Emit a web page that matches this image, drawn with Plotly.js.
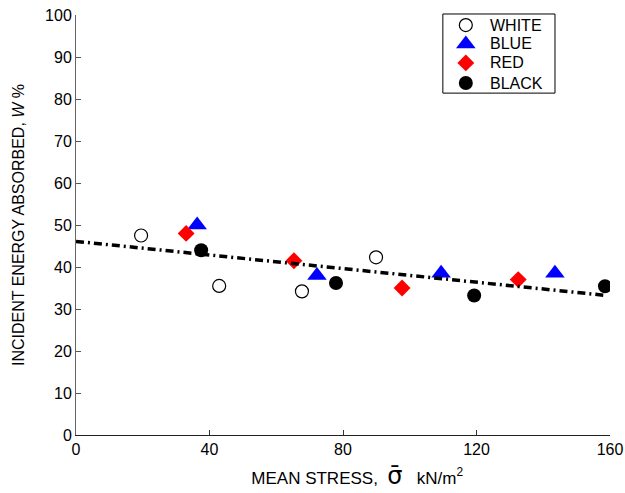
<!DOCTYPE html>
<html><head><meta charset="utf-8">
<script src="https://cdn.plot.ly/plotly-3.0.1.min.js"></script>
<style>body{margin:0;padding:0;background:#fff}</style>
</head><body>
<div id="chart" style="width:625px;height:493px"></div>
<script>
const whiteX = [19.5, 42.9, 67.7, 89.9];
const whiteY = [47.5, 35.5, 34.2, 42.3];
const blueX = [36.3, 72.2, 109.4, 143.5];
const blueY = [50.0, 38.0, 38.5, 38.5];
const redX = [33.0, 65.3, 97.7, 132.5];
const redY = [48.0, 41.5, 35.0, 37.0];
const blackX = [37.5, 77.9, 119.3, 158.5];
const blackY = [44.0, 36.2, 33.2, 35.4];
const fitX = [0, 158];
const fitY = [46.1, 33.3];
const seriesNames = ['WHITE', 'BLUE', 'RED', 'BLACK'];

const markers = [
  {symbol: 'circle-open', size: 13, color: 'black', line: {width: 1.2, color: 'black'}},
  {symbol: 'triangle-up', size: 17, color: '#0000ff'},
  {symbol: 'diamond', size: 13, color: '#ff0000'},
  {symbol: 'circle', size: 14, color: 'black'}
];
const xs = [whiteX, blueX, redX, blackX];
const ys = [whiteY, blueY, redY, blackY];

const traces = [];
for (let i = 0; i < 4; i++) {
  traces.push({x: xs[i], y: ys[i], mode: 'markers', name: seriesNames[i], type: 'scatter',
    showlegend: false, marker: markers[i]});
}
traces.push({x: fitX, y: fitY, mode: 'lines', showlegend: false, type: 'scatter',
  line: {color: 'black', width: 3.5, dash: '8px,4px,2px,4px'}});

// custom legend (overlay axes 0..1 matching the plot area)
const legY = [0.976, 0.931, 0.886, 0.838];
const annotations = [];
for (let i = 0; i < 4; i++) {
  traces.push({x: [0.730], y: [legY[i]], xaxis: 'x2', yaxis: 'y2', mode: 'markers',
    type: 'scatter', showlegend: false, cliponaxis: false, marker: markers[i]});
  annotations.push({xref: 'paper', yref: 'paper', x: 0.772, y: legY[i], xanchor: 'left',
    yanchor: 'middle', text: seriesNames[i], showarrow: false, font: {size: 16}});
}

const layout = {
  width: 625, height: 493,
  margin: {l: 76, r: 15, t: 15, b: 58},
  paper_bgcolor: 'white', plot_bgcolor: 'white',
  font: {family: 'Liberation Sans, Arial, sans-serif', size: 16, color: 'black'},
  showlegend: false,
  annotations: annotations,
  shapes: [{type: 'rect', xref: 'paper', yref: 'paper', x0: 0.687, x1: 0.897, y0: 0.814, y1: 1.0024,
    line: {color: 'black', width: 1}, fillcolor: 'rgba(0,0,0,0)', layer: 'above'}],
  xaxis: {
    range: [0, 160], tickvals: [0, 40, 80, 120, 160],
    ticks: 'inside', ticklen: 5, tickcolor: '#333', showgrid: false, zeroline: false,
    showline: true, linecolor: '#222', linewidth: 1, mirror: false,
    tickfont: {size: 16},
    title: {text: '&nbsp;&nbsp;&nbsp;&nbsp;&nbsp;&nbsp;MEAN STRESS, &nbsp;<span style="font-family:\'DejaVu Sans\';font-size:24px">σ̄</span>&nbsp;&nbsp; kN/m<sup>2</sup>', standoff: 14,
      font: {size: 17}}
  },
  yaxis: {
    range: [0, 100], tickvals: [0,10,20,30,40,50,60,70,80,90,100],
    ticks: 'inside', ticklen: 5, tickcolor: '#555', showgrid: false, zeroline: false,
    showline: true, linecolor: '#666', linewidth: 1, mirror: false,
    tickfont: {size: 16},
    title: {text: 'INCIDENT ENERGY ABSORBED, <i>W</i> %', standoff: 16, font: {size: 16}}
  },
  xaxis2: {overlaying: 'x', range: [0, 1], visible: false, fixedrange: true},
  yaxis2: {overlaying: 'y', range: [0, 1], visible: false, fixedrange: true}
};
Plotly.newPlot('chart', traces, layout, {displayModeBar: false, staticPlot: true});
</script>
</body></html>
